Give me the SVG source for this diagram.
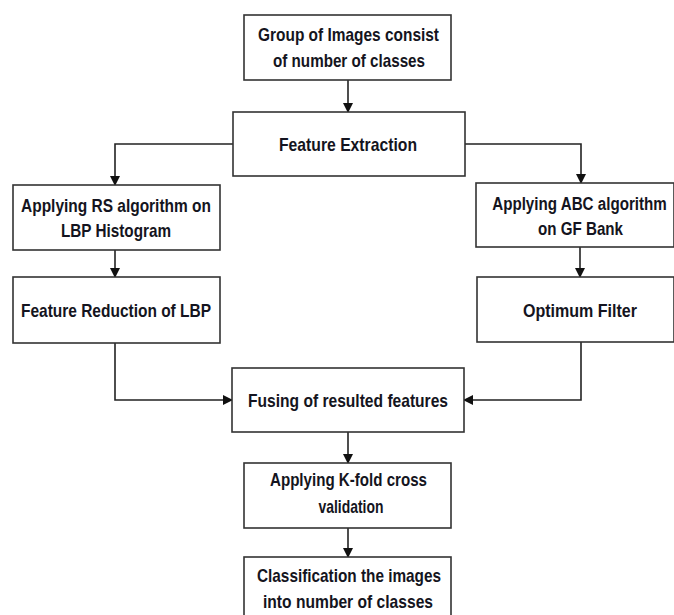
<svg xmlns="http://www.w3.org/2000/svg" width="674" height="615" viewBox="0 0 674 615">
  <defs>
    <marker id="arr" markerWidth="10" markerHeight="10" refX="9" refY="5" orient="auto" markerUnits="userSpaceOnUse">
      <path d="M0,0 L10,5 L0,10 Z" fill="#111"/>
    </marker>
    <style>
      .box { fill: #fff; stroke: #333; stroke-width: 1.6; }
      .lbl { font-family: "Liberation Sans", Arial, sans-serif; font-weight: bold; font-size: 19px; fill: #141420; text-anchor: middle; }
      .con { fill: none; stroke: #222; stroke-width: 1.6; marker-end: url(#arr); }
    </style>
  </defs>
  <rect width="674" height="615" fill="#fff"/>

  <g id="connectors">
    <path class="con" d="M348,80 L348,112"/>
    <path class="con" d="M233,144 L115,144 L115,185"/>
    <path class="con" d="M465,144 L581,144 L581,183"/>
    <path class="con" d="M115,250 L115,277"/>
    <path class="con" d="M580,247 L580,277"/>
    <path class="con" d="M115,343 L115,400 L232,400"/>
    <path class="con" d="M581,342 L581,400 L464,400"/>
    <path class="con" d="M348,432 L348,463"/>
    <path class="con" d="M348,528 L348,557"/>
  </g>

  <g id="group-images">
    <rect class="box" x="244" y="15" width="207" height="65"/>
    <text class="lbl" x="348.5" y="41" textLength="181" lengthAdjust="spacingAndGlyphs">Group of Images consist</text>
    <text class="lbl" x="349" y="67" textLength="152" lengthAdjust="spacingAndGlyphs">of number of classes</text>
  </g>

  <g id="feature-extraction">
    <rect class="box" x="233" y="112" width="232" height="64"/>
    <text class="lbl" x="348" y="151" textLength="138" lengthAdjust="spacingAndGlyphs">Feature Extraction</text>
  </g>

  <g id="rs-lbp">
    <rect class="box" x="13" y="185" width="207" height="65"/>
    <text class="lbl" x="116" y="211.5" textLength="190" lengthAdjust="spacingAndGlyphs">Applying RS algorithm on</text>
    <text class="lbl" x="116" y="237" textLength="110" lengthAdjust="spacingAndGlyphs">LBP Histogram</text>
  </g>

  <g id="feature-reduction">
    <rect class="box" x="13" y="277" width="207" height="66"/>
    <text class="lbl" x="116" y="317" textLength="190" lengthAdjust="spacingAndGlyphs">Feature Reduction of LBP</text>
  </g>

  <g id="abc-gf">
    <rect class="box" x="476" y="183" width="198" height="64"/>
    <text class="lbl" transform="translate(579.5,209.5) scale(0.82,1)" x="0" y="0" textLength="213" lengthAdjust="spacingAndGlyphs">Applying ABC algorithm</text>
    <text class="lbl" x="580.5" y="235" textLength="85" lengthAdjust="spacingAndGlyphs">on GF Bank</text>
  </g>

  <g id="optimum-filter">
    <rect class="box" x="477" y="277" width="197" height="65"/>
    <text class="lbl" x="580" y="317" textLength="114" lengthAdjust="spacingAndGlyphs">Optimum Filter</text>
  </g>

  <g id="fusing">
    <rect class="box" x="232" y="368" width="232" height="64"/>
    <text class="lbl" x="348" y="406.5" textLength="200" lengthAdjust="spacingAndGlyphs">Fusing of resulted features</text>
  </g>

  <g id="kfold">
    <rect class="box" x="244" y="463" width="207" height="65"/>
    <text class="lbl" x="348.5" y="486" textLength="157" lengthAdjust="spacingAndGlyphs">Applying K-fold cross</text>
    <text class="lbl" x="351" y="513" textLength="65" lengthAdjust="spacingAndGlyphs">validation</text>
  </g>

  <g id="classification">
    <rect class="box" x="244" y="557" width="207" height="70"/>
    <text class="lbl" x="349" y="581.5" textLength="184" lengthAdjust="spacingAndGlyphs">Classification the images</text>
    <text class="lbl" x="348" y="607.5" textLength="170" lengthAdjust="spacingAndGlyphs">into number of classes</text>
  </g>
</svg>
